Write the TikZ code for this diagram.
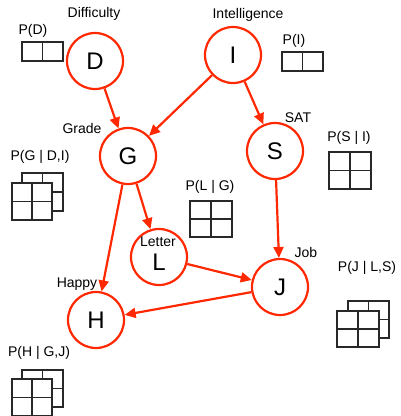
\documentclass[tikz,border=0pt]{standalone}
\usepackage{fontspec}
\setmainfont{Liberation Sans}
\usetikzlibrary{arrows.meta}
\definecolor{nodered}{RGB}{255,40,0}
\definecolor{gridgray}{RGB}{40,40,40}
\tikzset{
  rv/.style={circle, draw=nodered, line width=2.2pt, fill=white, minimum size=56pt,
             inner sep=0pt, font=\fontsize{24}{24}\selectfont},
  lbl/.style={font=\fontsize{14}{16}\selectfont, inner sep=0pt},
  edge/.style={draw=nodered, line width=2.2pt, -{Triangle[length=11pt,width=10pt]}},
  cpt/.style={draw=gridgray, line width=1.2pt, fill=white}
}
% one-row table of two cells
\newcommand\cptrow[4]{%
  \draw[cpt] (#1,#2) rectangle (#3,#4);
  \draw[cpt] ({(#1+#3)/2},#2) -- ({(#1+#3)/2},#4);}
% 2x2 table
\newcommand\cptgrid[4]{%
  \draw[cpt] (#1,#2) rectangle (#3,#4);
  \draw[cpt] ({(#1+#3)/2},#2) -- ({(#1+#3)/2},#4)
             (#1,{(#2+#4)/2}) -- (#3,{(#2+#4)/2});}
\begin{document}
\begin{tikzpicture}[x=1pt,y=-1pt]
\useasboundingbox (0,0) rectangle (400,416);

% random variables
\node[rv] (D) at (95,61) {D};
\node[rv] (I) at (233,55) {I};
\node[rv] (G) at (128,156) {G};
\node[rv] (S) at (275,151) {S};
\node[rv] (L) at (159,257) {};
\node[rv] (J) at (280,287) {J};
\node[rv] (H) at (96,320) {H};
\node[font=\fontsize{24}{24}\selectfont, inner sep=0pt] (Lsym) at (159,262) {L};

% variable names
\node[lbl] (nD) at (94,14) {Difficulty};
\node[lbl] (nI) at (248,15) {Intelligence};
\node[lbl] (nG) at (82,128) {Grade};
\node[lbl] (nS) at (298,118) {SAT};
\node[lbl] (nL) at (158,242) {Letter};
\node[lbl] (nJ) at (306,252) {Job};
\node[lbl] (nH) at (77,284) {Happy};

% dependencies
\draw[edge] (D) -- (G);
\draw[edge] (I) -- (G);
\draw[edge] (I) -- (S);
\draw[edge] (G) -- (L);
\draw[edge] (G) -- (H);
\draw[edge] (S) -- (J);
\draw[edge] (L) -- (J);
\draw[edge] (J) -- (H);

% conditional probability tables
\node[lbl] (pD) at (33,31) {P(D)};
\cptrow{22}{42}{63}{61}

\node[lbl] (pI) at (294,41) {P(I)};
\cptrow{282}{52}{323}{71}

\node[lbl] (pG) at (40,157) {P(G | D,I)};
\cptgrid{22}{173}{63}{211}
\cptgrid{12}{183}{52}{220}

\node[lbl] (pL) at (210,187) {P(L | G)};
\cptgrid{190}{201}{232}{237}

\node[lbl] (pS) at (349,138) {P(S | I)};
\cptgrid{329}{152}{371}{189}

\node[lbl] (pJ) at (367,268) {P(J | L,S)};
\cptgrid{348}{301}{389}{338}
\cptgrid{337}{311}{379}{347}

\node[lbl] (pH) at (39,353) {P(H | G,J)};
\cptgrid{22}{370}{63}{407}
\cptgrid{12}{379}{52}{416}
\end{tikzpicture}
\end{document}
